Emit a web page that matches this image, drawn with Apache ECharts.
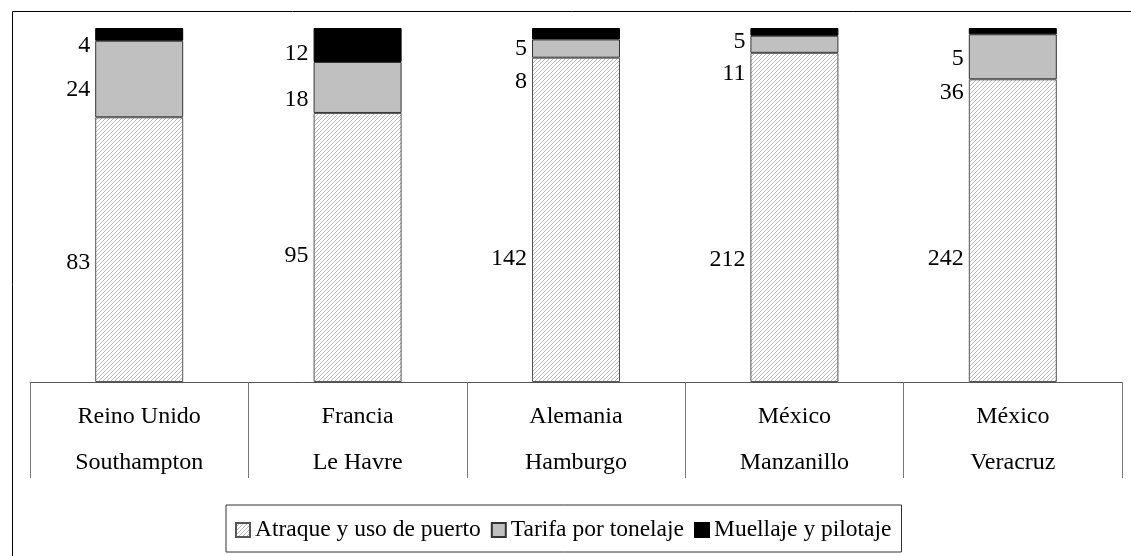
<!DOCTYPE html>
<html>
<head>
<meta charset="utf-8">
<script src="https://cdn.jsdelivr.net/npm/echarts@6/dist/echarts.min.js"></script>
<style>
html,body{margin:0;padding:0;background:#fff;}
#main{width:1131px;height:556px;}
</style>
</head>
<body>
<div id="main"></div>
<script>
// ---- data ----
var categories = ['Reino Unido\nSouthampton', 'Francia\nLe Havre', 'Alemania\nHamburgo', 'México\nManzanillo', 'México\nVeracruz'];
var seriesNames = ['Atraque y uso de puerto', 'Tarifa por tonelaje', 'Muellaje y pilotaje'];
var atraque = [83, 95, 142, 212, 242];
var tarifa = [24, 18, 8, 11, 36];
var muellaje = [4, 12, 5, 5, 5];

// ---- label vertical nudges (style only) ----
var atraqueDy = [13, 8, 39, 42, 28];
var tarifaDy = [11, 12, 33, 29, 36];
var muellajeDy = [11, 9, 15, 10, 28];

var totals = categories.map(function (_, i) { return atraque[i] + tarifa[i] + muellaje[i]; });
function pct(arr) { return arr.map(function (v, i) { return v / totals[i] * 100; }); }

// hatch pattern
var pc = document.createElement('canvas');
pc.width = 4; pc.height = 4;
var ctx = pc.getContext('2d');
ctx.fillStyle = '#ffffff';
ctx.fillRect(0, 0, 4, 4);
ctx.strokeStyle = '#b8b8b8';
ctx.lineWidth = 1;
ctx.beginPath();
ctx.moveTo(-1, 5); ctx.lineTo(5, -1);
ctx.moveTo(-1, 1); ctx.lineTo(1, -1);
ctx.moveTo(3, 5); ctx.lineTo(5, 3);
ctx.stroke();
var hatch = { image: pc, repeat: 'repeat' };

var FONT = '"Liberation Serif", "DejaVu Serif", serif';

function mkSeries(name, raw, dys, color, border) {
  return {
    name: name,
    type: 'bar',
    stack: 'total',
    barWidth: 88,
    data: pct(raw).map(function (v, i) {
      return { value: v, label: { offset: [-1, dys[i]] } };
    }),
    itemStyle: { color: color, borderColor: border, borderWidth: 1 },
    label: {
      show: true,
      position: 'left',
      distance: 4,
      color: '#000',
      fontFamily: FONT,
      fontSize: 24,
      formatter: function (p) { return raw[p.dataIndex]; }
    }
  };
}

var chart = echarts.init(document.getElementById('main'), null, { renderer: 'canvas' });
chart.setOption({
  animation: false,
  backgroundColor: '#fff',
  textStyle: { fontFamily: FONT },
  grid: { left: 30, right: 9, top: 28, bottom: 174, containLabel: false },
  xAxis: {
    type: 'category',
    data: categories,
    axisLine: { show: true, lineStyle: { color: '#555', width: 1 } },
    axisTick: { show: true, length: 96, alignWithLabel: false, lineStyle: { color: '#777', width: 1 } },
    axisLabel: { fontFamily: FONT, fontSize: 24, color: '#000', lineHeight: 46, margin: 12 }
  },
  yAxis: { type: 'value', min: 0, max: 100, show: false, splitLine: { show: false } },
  legend: {
    left: 226, top: 505,
    padding: [13, 10, 10, 9],
    itemGap: 10,
    itemWidth: 14, itemHeight: 14,
    borderColor: '#333', borderWidth: 1,
    textStyle: { fontFamily: FONT, fontSize: 23.5, color: '#000' },
    data: seriesNames.map(function (n) { return { name: n, icon: 'rect' }; })
  },
  graphic: [{
    type: 'rect', left: 10, top: 9, silent: true,
    shape: { width: 1200, height: 600 },
    style: { fill: null, stroke: '#000', lineWidth: 1 }
  }],
  series: [
    mkSeries(seriesNames[0], atraque, atraqueDy, hatch, '#555'),
    mkSeries(seriesNames[1], tarifa, tarifaDy, '#c0c0c0', '#333'),
    mkSeries(seriesNames[2], muellaje, muellajeDy, '#000', '#000')
  ]
});
</script>
</body>
</html>
